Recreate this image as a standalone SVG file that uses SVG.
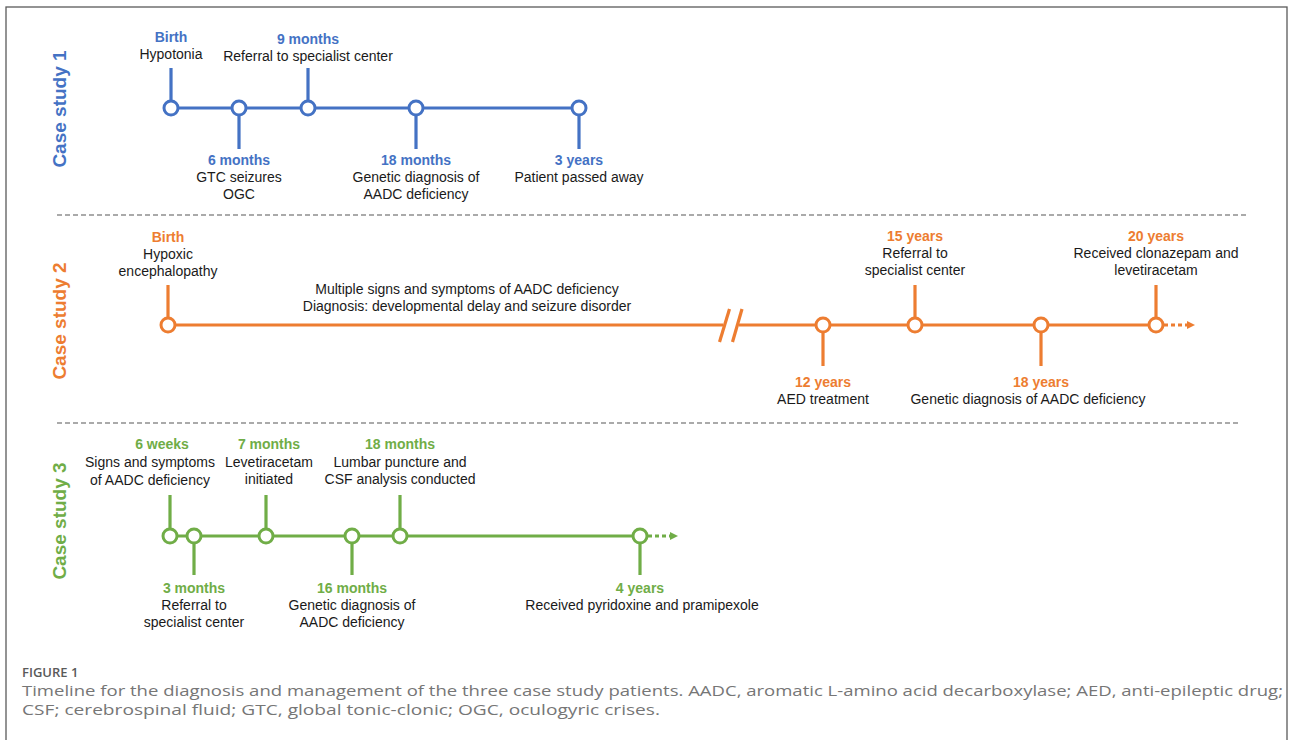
<svg xmlns="http://www.w3.org/2000/svg" width="1292" height="740" viewBox="0 0 1292 740">
<defs>
<style>
text{font-family:"Liberation Sans",Arial,sans-serif;font-size:14px;fill:#1a1a1a;text-anchor:middle}
.tB{fill:#4472C4;font-weight:bold}
.tO{fill:#ED7D31;font-weight:bold}
.tG{fill:#70AD47;font-weight:bold}
.case{font-size:19px;font-weight:bold}
.ln{fill:none;stroke-width:3.2}
.cB{stroke:#4472C4}
.cO{stroke:#ED7D31}
.cG{stroke:#70AD47}
.nd{fill:#ffffff;stroke-width:3}
.dot{fill:none;stroke-width:3.2;stroke-dasharray:4 3}
.sep{stroke:#8f8f8f;stroke-width:1.5;stroke-dasharray:5 3;fill:none}
.capH{font-family:"Open Sans","Liberation Sans",sans-serif;font-size:13px;font-weight:600;fill:#5a5a5a;text-anchor:start}
.cap{font-family:"Open Sans","Liberation Sans",sans-serif;font-size:15px;fill:#767676;text-anchor:start}
</style>
<marker id="arrO" viewBox="0 0 8 8" refX="1" refY="4" markerWidth="8" markerHeight="8" markerUnits="userSpaceOnUse" orient="auto"><path d="M0,0 L8,4 L0,8 z" fill="#ED7D31"/></marker>
<marker id="arrG" viewBox="0 0 8 8" refX="1" refY="4" markerWidth="8" markerHeight="8" markerUnits="userSpaceOnUse" orient="auto"><path d="M0,0 L8,4 L0,8 z" fill="#70AD47"/></marker>
</defs>
<rect x="6" y="7" width="1281" height="760" fill="#ffffff" stroke="#5a5a5a" stroke-width="1.3"/>

<!-- separators -->
<line class="sep" x1="57" y1="215" x2="1248" y2="215"/>
<line class="sep" x1="57" y1="423" x2="1240" y2="423"/>

<!-- case labels -->
<text class="case tB" transform="translate(66,109) rotate(-90)">Case study 1</text>
<text class="case tO" transform="translate(66,321) rotate(-90)">Case study 2</text>
<text class="case tG" transform="translate(66,521) rotate(-90)">Case study 3</text>

<g id="connectors">
  <!-- case 1 -->
  <line class="ln cB" x1="171" y1="108" x2="579" y2="108"/>
  <line class="ln cB" x1="171" y1="68" x2="171" y2="101"/>
  <line class="ln cB" x1="239" y1="115" x2="239" y2="149"/>
  <line class="ln cB" x1="308" y1="68" x2="308" y2="101"/>
  <line class="ln cB" x1="416" y1="115" x2="416" y2="149"/>
  <line class="ln cB" x1="579" y1="115" x2="579" y2="149"/>
  <!-- case 2 -->
  <line class="ln cO" x1="168" y1="325" x2="723" y2="325"/>
  <line class="ln cO" x1="739" y1="325" x2="1156" y2="325"/>
  <line class="ln cO" x1="719.5" y1="342" x2="729.5" y2="309"/>
  <line class="ln cO" x1="732.5" y1="342" x2="742" y2="309"/>
  <line class="dot cO" x1="1164" y1="325" x2="1188" y2="325" marker-end="url(#arrO)"/>
  <line class="ln cO" x1="168" y1="285" x2="168" y2="318"/>
  <line class="ln cO" x1="823" y1="332" x2="823" y2="366"/>
  <line class="ln cO" x1="915" y1="285" x2="915" y2="318"/>
  <line class="ln cO" x1="1041" y1="332" x2="1041" y2="366"/>
  <line class="ln cO" x1="1156" y1="285" x2="1156" y2="318"/>
  <!-- case 3 -->
  <line class="ln cG" x1="170" y1="536" x2="640" y2="536"/>
  <line class="dot cG" x1="648" y1="536" x2="671" y2="536" marker-end="url(#arrG)"/>
  <line class="ln cG" x1="170" y1="495" x2="170" y2="529"/>
  <line class="ln cG" x1="194" y1="543" x2="194" y2="575"/>
  <line class="ln cG" x1="266" y1="495" x2="266" y2="529"/>
  <line class="ln cG" x1="352" y1="543" x2="352" y2="575"/>
  <line class="ln cG" x1="400" y1="495" x2="400" y2="529"/>
  <line class="ln cG" x1="640" y1="543" x2="640" y2="575"/>
</g>

<!-- Case study 1 nodes -->
<g id="c1-birth"><circle class="nd cB" cx="171" cy="108" r="7"/><text class="tB" x="171" y="42">Birth</text><text x="171" y="59">Hypotonia</text></g>
<g id="c1-6m"><circle class="nd cB" cx="239" cy="108" r="7"/><text class="tB" x="239" y="165">6 months</text><text x="239" y="182">GTC seizures</text><text x="239" y="199">OGC</text></g>
<g id="c1-9m"><circle class="nd cB" cx="308" cy="108" r="7"/><text class="tB" x="308" y="44">9 months</text><text x="308" y="61">Referral to specialist center</text></g>
<g id="c1-18m"><circle class="nd cB" cx="416" cy="108" r="7"/><text class="tB" x="416" y="165">18 months</text><text x="416" y="182">Genetic diagnosis of</text><text x="416" y="199">AADC deficiency</text></g>
<g id="c1-3y"><circle class="nd cB" cx="579" cy="108" r="7"/><text class="tB" x="579" y="165">3 years</text><text x="579" y="182">Patient passed away</text></g>

<!-- Case study 2 nodes -->
<g id="c2-birth"><circle class="nd cO" cx="168" cy="325" r="7"/><text class="tO" x="168" y="242">Birth</text><text x="168" y="259">Hypoxic</text><text x="168" y="276">encephalopathy</text></g>
<g id="c2-period"><text x="467" y="294">Multiple signs and symptoms of AADC deficiency</text><text x="467" y="311">Diagnosis: developmental delay and seizure disorder</text></g>
<g id="c2-12y"><circle class="nd cO" cx="823" cy="325" r="7"/><text class="tO" x="823" y="387">12 years</text><text x="823" y="404">AED treatment</text></g>
<g id="c2-15y"><circle class="nd cO" cx="915" cy="325" r="7"/><text class="tO" x="915" y="241">15 years</text><text x="915" y="258">Referral to</text><text x="915" y="275">specialist center</text></g>
<g id="c2-18y"><circle class="nd cO" cx="1041" cy="325" r="7"/><text class="tO" x="1041" y="387">18 years</text><text x="1028" y="404">Genetic diagnosis of AADC deficiency</text></g>
<g id="c2-20y"><circle class="nd cO" cx="1156" cy="325" r="7"/><text class="tO" x="1156" y="241">20 years</text><text x="1156" y="258">Received clonazepam and</text><text x="1156" y="275">levetiracetam</text></g>

<!-- Case study 3 nodes -->
<g id="c3-6w"><circle class="nd cG" cx="170" cy="536" r="7"/><text class="tG" x="162" y="449">6 weeks</text><text x="150" y="467">Signs and symptoms</text><text x="150" y="485">of AADC deficiency</text></g>
<g id="c3-3m"><circle class="nd cG" cx="194" cy="536" r="7"/><text class="tG" x="194" y="593">3 months</text><text x="194" y="610">Referral to</text><text x="194" y="627">specialist center</text></g>
<g id="c3-7m"><circle class="nd cG" cx="266" cy="536" r="7"/><text class="tG" x="269" y="449">7 months</text><text x="269" y="467">Levetiracetam</text><text x="269" y="484">initiated</text></g>
<g id="c3-16m"><circle class="nd cG" cx="352" cy="536" r="7"/><text class="tG" x="352" y="593">16 months</text><text x="352" y="610">Genetic diagnosis of</text><text x="352" y="627">AADC deficiency</text></g>
<g id="c3-18m"><circle class="nd cG" cx="400" cy="536" r="7"/><text class="tG" x="400" y="449">18 months</text><text x="400" y="467">Lumbar puncture and</text><text x="400" y="484">CSF analysis conducted</text></g>
<g id="c3-4y"><circle class="nd cG" cx="640" cy="536" r="7"/><text class="tG" x="640" y="593">4 years</text><text x="642" y="610">Received pyridoxine and pramipexole</text></g>

<!-- caption -->
<text class="capH" x="22" y="677">FIGURE 1</text>
<text class="cap" x="22" y="696" textLength="1261" lengthAdjust="spacingAndGlyphs">Timeline for the diagnosis and management of the three case study patients. AADC, aromatic L-amino acid decarboxylase; AED, anti-epileptic drug;</text>
<text class="cap" x="22" y="715" textLength="638" lengthAdjust="spacingAndGlyphs">CSF; cerebrospinal fluid; GTC, global tonic-clonic; OGC, oculogyric crises.</text>
</svg>
